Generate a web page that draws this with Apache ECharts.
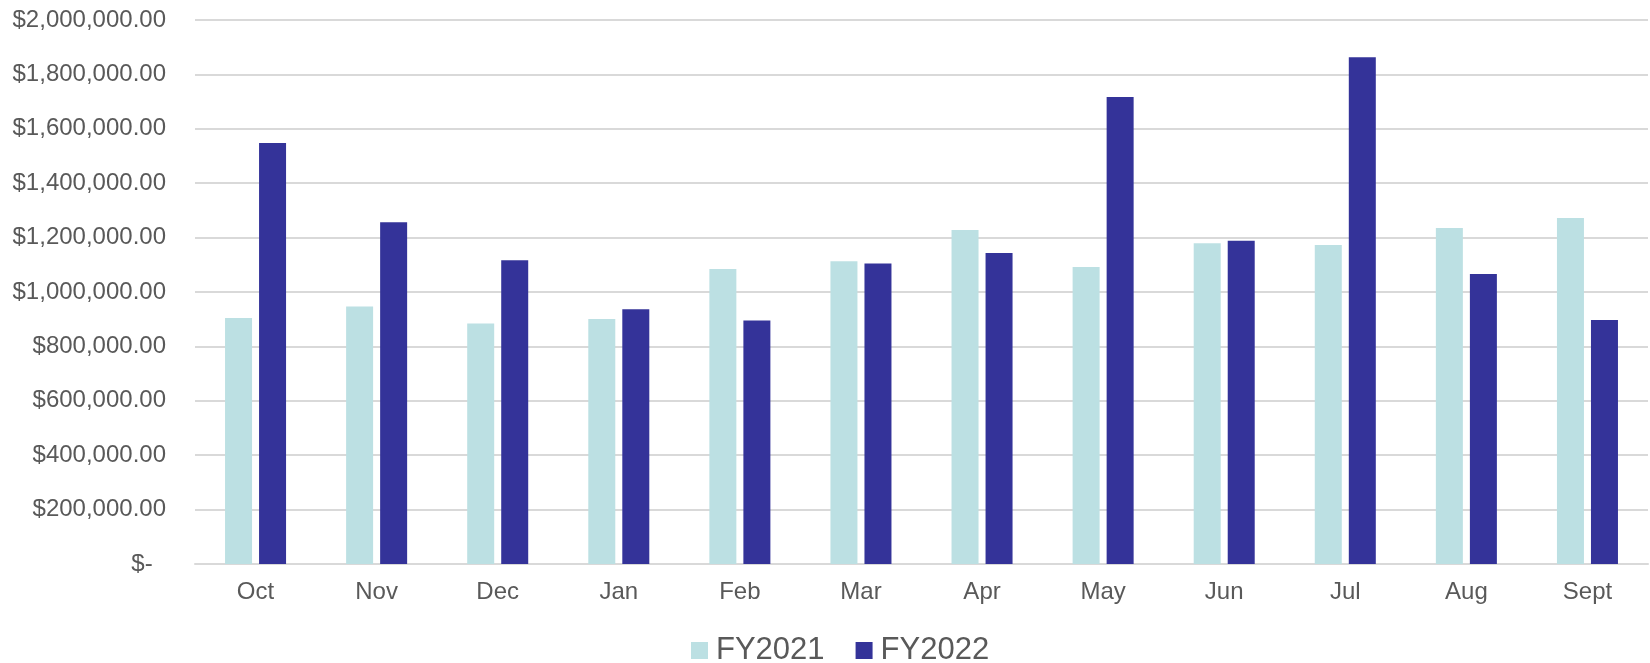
<!DOCTYPE html>
<html>
<head>
<meta charset="utf-8">
<script src="https://cdn.jsdelivr.net/npm/echarts@6/dist/echarts.min.js"></script>
<style>
html,body{margin:0;padding:0;background:#fff;}
#chart{width:1650px;height:663px;}
</style>
</head>
<body>
<div id="chart"></div>
<script>
const categories = ['Oct','Nov','Dec','Jan','Feb','Mar','Apr','May','Jun','Jul','Aug','Sept'];
const fy2021 = [904000, 947000, 884000, 901000, 1085000, 1113000, 1228000, 1092000, 1179000, 1173000, 1235000, 1272000];
const fy2022 = [1548000, 1256000, 1117000, 937000, 895000, 1105000, 1143000, 1717000, 1188000, 1863000, 1066000, 897000];
const seriesNames = ['FY2021', 'FY2022'];

const FONT = '"Liberation Sans", Arial, sans-serif';
function fmt(v){
  if (v === 0) return '$-  ';
  return '$' + v.toLocaleString('en-US', {minimumFractionDigits:2, maximumFractionDigits:2});
}

const chart = echarts.init(document.getElementById('chart'), null, {renderer:'canvas'});
chart.setOption({
  animation: false,
  backgroundColor: '#ffffff',
  grid: {left: 195, right: 2, top: 20, bottom: 99, containLabel: false},
  legend: {
    data: seriesNames,
    left: 686,
    top: 630,
    itemWidth: 17,
    itemHeight: 17,
    itemGap: 31,
    icon: 'rect',
    textStyle: {fontFamily: FONT, fontSize: 31, color: '#595959', padding: [0,0,0,3]}
  },
  xAxis: {
    type: 'category',
    data: categories,
    axisLine: {show: true, lineStyle: {color: '#D9D9D9', width: 2}},
    axisTick: {show: false},
    axisLabel: {fontFamily: FONT, fontSize: 24, color: '#595959', margin: 16}
  },
  yAxis: {
    type: 'value',
    min: 0,
    max: 2000000,
    interval: 200000,
    axisLine: {show: false},
    axisTick: {show: false},
    splitLine: {lineStyle: {color: '#D9D9D9', width: 2}},
    axisLabel: {fontFamily: FONT, fontSize: 24, color: '#595959', margin: 29, formatter: fmt}
  },
  series: [
    {name: seriesNames[0], type: 'bar', data: fy2021, barWidth: 27, barGap: '26%', itemStyle: {color: '#BCE0E3'}},
    {name: seriesNames[1], type: 'bar', data: fy2022, barWidth: 27, barGap: '26%', itemStyle: {color: '#343399'}}
  ]
});
</script>
</body>
</html>
